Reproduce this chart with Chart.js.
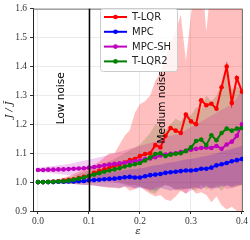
<!DOCTYPE html>
<html>
<head>
<meta charset="utf-8">
<script src="https://cdn.jsdelivr.net/npm/chart.js@4.4.1/dist/chart.umd.min.js"></script>
<style>
  body { margin: 0; background: #fff; }
  #wrap { width: 250px; height: 240px; }
</style>
</head>
<body>
<div id="wrap"><canvas id="chart" width="250" height="240"></canvas></div>
<script>
// epsilon grid 0.00 .. 0.40
const eps = [0,0.01,0.02,0.03,0.04,0.05,0.06,0.07,0.08,0.09,0.1,0.11,0.12,0.13,0.14,0.15,0.16,0.17,0.18,0.19,0.2,
  0.21,0.22,0.23,0.24,0.25,0.26,0.27,0.28,0.29,0.3,0.31,0.32,0.33,0.34,0.35,0.36,0.37,0.38,0.39,0.4];

const names = ["T-LQR", "MPC", "MPC-SH", "T-LQR2"];
const colors = ["#ff0000", "#0000ff", "#bf00bf", "#008000"];
const bandColors = ["rgba(255,0,0,0.25)", "rgba(0,0,255,0.2)", "rgba(191,0,191,0.2)", "rgba(0,128,0,0.2)"];

const tlqr = [1.0,1.0,1.001,1.002,1.003,1.005,1.008,1.01,1.014,1.018,1.022,1.032,1.038,1.044,1.05,1.056,1.06,1.068,1.076,1.08,1.09,
  1.097,1.1,1.128,1.12,1.16,1.187,1.178,1.17,1.234,1.21,1.2,1.283,1.266,1.271,1.254,1.328,1.4,1.274,1.36,1.313];
const mpc = [1.0,1.0,1.0,1.0,1.001,1.001,1.002,1.002,1.003,1.004,1.006,1.007,1.008,1.01,1.011,1.012,1.014,1.017,1.018,1.016,1.016,
  1.02,1.024,1.026,1.028,1.032,1.034,1.036,1.038,1.04,1.04,1.042,1.046,1.046,1.05,1.058,1.062,1.066,1.072,1.076,1.08];
const mpcsh = [1.042,1.042,1.043,1.043,1.044,1.044,1.045,1.046,1.047,1.048,1.05,1.052,1.055,1.058,1.061,1.063,1.065,1.067,1.069,1.072,1.075,
  1.08,1.082,1.086,1.092,1.095,1.098,1.1,1.104,1.108,1.112,1.115,1.118,1.12,1.118,1.125,1.115,1.13,1.14,1.16,1.2];
const tlqr2 = [1.0,1.0,1.0,1.001,1.002,1.003,1.005,1.008,1.012,1.016,1.022,1.026,1.031,1.036,1.04,1.044,1.048,1.054,1.058,1.062,1.066,
  1.075,1.085,1.097,1.1,1.09,1.095,1.098,1.1,1.108,1.12,1.142,1.147,1.128,1.162,1.145,1.17,1.185,1.178,1.185,1.187];

// spread bands (upper / lower)
const tlqrHi = [1.0,1.0,1.003,1.006,1.01,1.015,1.02,1.028,1.035,1.045,1.05,1.06,1.07,1.085,1.1,1.1,1.13,1.16,1.18,1.24,1.27,
  1.28,1.3,1.35,1.38,1.43,1.48,1.52,1.58,1.42,1.58,1.7,1.75,1.52,1.7,1.8,1.85,1.9,1.8,1.85,1.9];
const tlqrLo = [1.0,0.999,0.998,0.997,0.996,0.995,0.994,0.993,0.992,0.99,0.99,0.988,0.985,0.983,0.98,0.98,0.978,0.985,0.97,0.975,0.985,
  0.97,0.96,0.95,0.955,0.94,0.935,0.95,0.97,0.96,0.98,0.96,0.965,0.955,0.93,0.95,0.92,0.905,0.915,0.9,0.9];
const mpcHi = [1.0,1.001,1.002,1.004,1.006,1.008,1.01,1.012,1.015,1.018,1.02,1.023,1.026,1.029,1.032,1.035,1.038,1.042,1.045,1.045,1.048,
  1.05,1.055,1.058,1.06,1.065,1.068,1.07,1.075,1.078,1.08,1.083,1.088,1.09,1.095,1.1,1.105,1.11,1.115,1.12,1.125];
const mpcLo = [1.0,0.999,0.998,0.997,0.996,0.995,0.994,0.993,0.992,0.99,0.99,0.988,0.986,0.984,0.983,0.982,0.98,0.985,0.982,0.978,0.98,
  0.978,0.975,0.97,0.98,0.975,0.97,0.975,0.978,0.975,0.98,0.982,0.975,0.985,0.98,0.978,0.985,0.988,0.985,0.99,0.992];
const mpcshHi = [1.05,1.052,1.054,1.056,1.058,1.06,1.063,1.066,1.07,1.074,1.078,1.082,1.086,1.09,1.095,1.1,1.105,1.11,1.115,1.12,1.125,
  1.13,1.135,1.14,1.15,1.155,1.16,1.165,1.17,1.18,1.19,1.2,1.21,1.22,1.23,1.24,1.25,1.26,1.27,1.29,1.32];
const mpcshLo = [1.035,1.033,1.032,1.03,1.028,1.026,1.024,1.022,1.02,1.018,1.016,1.012,1.008,1.005,1.0,0.998,0.995,0.99,0.985,0.98,0.985,
  0.975,0.97,0.98,0.985,0.99,0.985,0.97,0.975,0.96,0.97,0.98,0.975,0.99,0.97,0.985,0.99,0.975,0.98,0.985,0.99];
const tlqr2Hi = [1.0,1.0,1.002,1.005,1.008,1.012,1.017,1.022,1.028,1.035,1.042,1.05,1.058,1.065,1.072,1.08,1.09,1.1,1.11,1.12,1.13,
  1.15,1.17,1.2,1.19,1.18,1.2,1.22,1.21,1.24,1.23,1.26,1.25,1.3,1.28,1.3,1.34,1.38,1.32,1.33,1.32];
const tlqr2Lo = [1.0,1.0,0.998,0.997,0.996,0.995,0.994,0.994,0.995,0.996,0.998,1.0,1.002,1.003,1.004,1.005,1.0,0.995,0.99,0.99,0.985,
  0.98,0.965,0.96,0.98,0.99,0.985,0.975,0.97,0.98,0.975,0.97,0.99,0.975,0.98,0.985,0.97,0.99,0.98,0.985,0.99];

const xTicks = [0, 0.1, 0.2, 0.3, 0.4];
const regionLabels = [
  { text: "Low noise", x: 0.045, y: 1.29 },
  { text: "Medium noise", x: 0.243, y: 1.26 }
];
const noiseLine = 0.1;

const means = [tlqr, mpc, mpcsh, tlqr2];
const highs = [tlqrHi, mpcHi, mpcshHi, tlqr2Hi];
const lows = [tlqrLo, mpcLo, mpcshLo, tlqr2Lo];

const pts = arr => arr.map((v, i) => ({ x: eps[i], y: v }));

const datasets = [];
// lines first in array (drawn on top via order)
const lineOrder = [3, 2, 1, 0];
names.forEach((n, k) => {
  datasets.push({
    label: n,
    data: pts(means[k]),
    borderColor: colors[k],
    backgroundColor: colors[k],
    borderWidth: 2,
    pointRadius: 2.3,
    pointBorderWidth: 0,
    tension: 0,
    fill: false,
    order: lineOrder[k]
  });
});
names.forEach((n, k) => {
  datasets.push({
    label: n + " band",
    data: pts(highs[k]),
    borderWidth: 0,
    pointRadius: 0,
    backgroundColor: bandColors[k],
    fill: "+1",
    tension: 0,
    order: 10 + k
  });
  datasets.push({
    label: n + " lo",
    data: pts(lows[k]),
    borderWidth: 0,
    pointRadius: 0,
    fill: false,
    tension: 0,
    order: 10 + k
  });
});

const extras = {
  id: "extras",
  beforeDatasetsDraw(chart) {
    const { ctx, chartArea: a, scales: { x, y } } = chart;
    ctx.save();
    ctx.strokeStyle = "#777";
    ctx.lineWidth = 1;
    ctx.beginPath();
    ctx.moveTo(a.left, a.top + 0.5);
    ctx.lineTo(a.right - 0.5, a.top + 0.5);
    ctx.lineTo(a.right - 0.5, a.bottom);
    ctx.stroke();
    ctx.restore();
  },
  afterDatasetsDraw(chart) {
    const { ctx, chartArea: a, scales: { x, y } } = chart;
    ctx.save();
    // vertical separator
    const px = Math.round(x.getPixelForValue(noiseLine)) + 0.5;
    ctx.strokeStyle = "#000";
    ctx.lineWidth = 1.5;
    ctx.beginPath();
    ctx.moveTo(px, a.top);
    ctx.lineTo(px, a.bottom);
    ctx.stroke();
    // region labels
    ctx.fillStyle = "#000";
    ctx.font = '10.5px "DejaVu Sans"';
    ctx.textAlign = "center";
    ctx.textBaseline = "middle";
    regionLabels.forEach(r => {
      ctx.save();
      ctx.translate(x.getPixelForValue(r.x), y.getPixelForValue(r.y));
      ctx.rotate(-Math.PI / 2);
      ctx.fillText(r.text, 0, 0);
      ctx.restore();
    });
    // legend
    const bx = 100, by = 8, bw = 77, bh = 63;
    ctx.beginPath();
    ctx.roundRect(bx + 0.5, by + 0.5, bw, bh, 3);
    ctx.fillStyle = "rgba(255,255,255,0.8)";
    ctx.fill();
    ctx.strokeStyle = "#cccccc";
    ctx.lineWidth = 1;
    ctx.stroke();
    ctx.font = '10px "DejaVu Sans"';
    ctx.textAlign = "left";
    names.forEach((n, k) => {
      const ly = by + 9 + k * 14.8;
      ctx.strokeStyle = colors[k];
      ctx.lineWidth = 2;
      ctx.beginPath();
      ctx.moveTo(104, ly);
      ctx.lineTo(127, ly);
      ctx.stroke();
      ctx.fillStyle = colors[k];
      ctx.beginPath();
      ctx.arc(115.5, ly, 2.3, 0, Math.PI * 2);
      ctx.fill();
      ctx.fillStyle = "#222";
      ctx.fillText(n, 132, ly + 0.5);
    });
    ctx.restore();
  }
};

new Chart(document.getElementById("chart").getContext("2d"), {
  type: "line",
  data: { datasets: datasets },
  options: {
    responsive: false,
    animation: false,
    devicePixelRatio: 1,
    layout: { padding: { top: 4, right: 7, left: 0, bottom: 0 } },
    plugins: {
      legend: { display: false },
      tooltip: { enabled: false }
    },
    scales: {
      x: {
        type: "linear",
        min: -0.0098,
        max: 0.402,
        afterBuildTicks: s => { s.ticks = xTicks.map(v => ({ value: v })); },
        afterFit: s => { s.height = 29; },
        grid: { color: "rgba(0,0,0,0.08)", tickColor: "#333", tickLength: 3, lineWidth: 1 },
        border: { color: "#222", width: 1 },
        ticks: {
          padding: 2,
          color: "#333",
          font: { family: '"Liberation Serif", serif', size: 9.5 },
          maxRotation: 0,
          callback: v => v.toFixed(1)
        },
        title: {
          display: true,
          text: "ε",
          color: "#222",
          padding: { top: 0, bottom: 3 },
          font: { family: '"DejaVu Serif", serif', style: "italic", size: 10 }
        }
      },
      y: {
        min: 0.9,
        max: 1.6,
        afterFit: s => { s.width = 33; },
        grid: { color: "rgba(0,0,0,0.08)", tickColor: "#333", tickLength: 3, lineWidth: 1 },
        border: { color: "#222", width: 1 },
        ticks: {
          stepSize: 0.1,
          padding: 3,
          color: "#333",
          font: { family: '"Liberation Serif", serif', size: 9.5 },
          callback: v => v.toFixed(1)
        },
        title: {
          display: true,
          text: "J / J\u0304",
          color: "#222",
          padding: { top: 4, bottom: 0 },
          font: { family: '"DejaVu Serif", serif', style: "italic", size: 9.5 }
        }
      }
    }
  },
  plugins: [extras]
});
</script>
</body>
</html>
